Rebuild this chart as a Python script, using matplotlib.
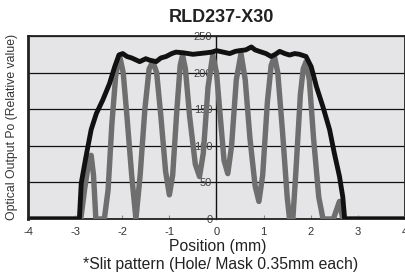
import matplotlib
matplotlib.use("Agg")
import matplotlib.pyplot as plt

plt.rcParams['font.family'] = ['Liberation Sans', 'DejaVu Sans']

title = "RLD237-X30"
x_label = "Position (mm)"
note = "*Slit pattern (Hole/ Mask 0.35mm each)"
y_label = "Optical Output Po (Relative value)"
x_ticks = [-4, -3, -2, -1, 0, 1, 2, 3, 4]
y_ticks = [0, 50, 100, 150, 200, 250]

# Slit pattern (grey)
slit_x = [-4.0, -2.88, -2.80, -2.72, -2.66, -2.61, -2.56, -2.38, -2.30, -2.22, -2.14, -2.06,
          -1.98, -1.90, -1.80, -1.71, -1.62, -1.52, -1.43, -1.35, -1.27, -1.18, -1.08, -1.00,
          -0.93, -0.84, -0.77, -0.72, -0.66, -0.57, -0.45, -0.36, -0.28, -0.18, -0.08, 0.00,
          0.08, 0.16, 0.24, 0.32, 0.42, 0.52, 0.61, 0.71, 0.82, 0.90, 0.98, 1.08, 1.16, 1.23,
          1.30, 1.40, 1.50, 1.55, 1.62, 1.68, 1.78, 1.84, 1.90, 1.97, 2.06, 2.17, 2.26, 2.48,
          2.56, 2.61, 2.65, 2.68, 4.0]
slit_y = [0, 0, 40, 75, 87, 60, 0, 0, 40, 130, 195, 224,
          200, 140, 60, 0, 60, 150, 205, 215, 200, 140, 65, 33,
          60, 150, 210, 224, 205, 140, 75, 58, 90, 180, 224, 200,
          140, 80, 62, 100, 190, 226, 190, 110, 45, 24, 60, 160, 210, 222,
          200, 120, 30, 0, 0, 60, 170, 205, 215, 190, 110, 30, 0, 0,
          15, 24, 10, 0, 0]

# Total optical output (black)
po_x = [-4.0, -2.91, -2.87, -2.77, -2.66, -2.55, -2.41, -2.27, -2.16, -2.07, -1.99, -1.90,
        -1.80, -1.63, -1.50, -1.42, -1.28, -1.18, -1.07, -0.95, -0.86, -0.70, -0.50, -0.36,
        -0.22, -0.10, 0.00, 0.14, 0.28, 0.40, 0.49, 0.62, 0.74, 0.82, 0.91, 1.05, 1.16, 1.25,
        1.34, 1.45, 1.55, 1.66, 1.76, 1.90, 2.01, 2.12, 2.26, 2.40, 2.50, 2.61, 2.68, 2.72, 4.0]
po_y = [0, 0, 49, 85, 122, 144, 163, 185, 208, 224, 226, 222,
        220, 215, 219, 217, 215, 220, 222, 226, 228, 227, 225, 226,
        227, 228, 230, 228, 226, 229, 230, 231, 235, 231, 229, 226, 222, 225,
        229, 226, 224, 226, 225, 222, 208, 181, 153, 122, 90, 58, 30, 0, 0]

fig = plt.figure(figsize=(4.06, 2.80), dpi=100)
ax = fig.add_axes([28/406, 61/280, 377/406, 183/280])
ax.set_facecolor('#e5e5e7')

ax.plot(slit_x, slit_y, color='#6e6e6e', lw=3.9, zorder=3, solid_joinstyle='round')
ax.plot(po_x, po_y, color='#111111', lw=3.5, zorder=4, solid_joinstyle='round')

ax.set_xlim(-4, 4)
ax.set_ylim(0, 250)
ax.set_xticks(x_ticks)
ax.set_xticklabels([str(v) for v in x_ticks])
ax.set_yticks(y_ticks)
ax.set_yticklabels([str(v) for v in y_ticks])

ax.spines['left'].set_position(('data', 0))
ax.spines['left'].set_color('#111111')
ax.spines['left'].set_linewidth(1.0)
for s in ['top', 'right', 'bottom']:
    ax.spines[s].set_color('#222222')
    ax.spines[s].set_linewidth(1.3)
ax.axvline(-4, color='#222222', lw=2.0, zorder=5, clip_on=False)

ax.yaxis.grid(True, color='#111111', lw=0.9)
ax.tick_params(axis='y', length=0, pad=3, labelsize=8, labelcolor='#444444')
ax.tick_params(axis='x', direction='in', length=3, color='#888888', pad=6,
               labelsize=8, labelcolor='#333333')

fig.text(221/406, 1 - 18/280, title, ha='center', va='center', fontsize=13,
         fontweight='bold', color='#222222')
fig.text(218/406, 1 - 247/280, x_label, ha='center', va='center', fontsize=11.3,
         color='#222222')
fig.text(221/406, 1 - 265/280, note, ha='center', va='center', fontsize=11.3,
         color='#222222')
fig.text(12/406, 1 - 127/280, y_label, ha='center', va='center', rotation=90,
         fontsize=8.8, color='#333333')

fig.savefig('out.png', dpi=100)
